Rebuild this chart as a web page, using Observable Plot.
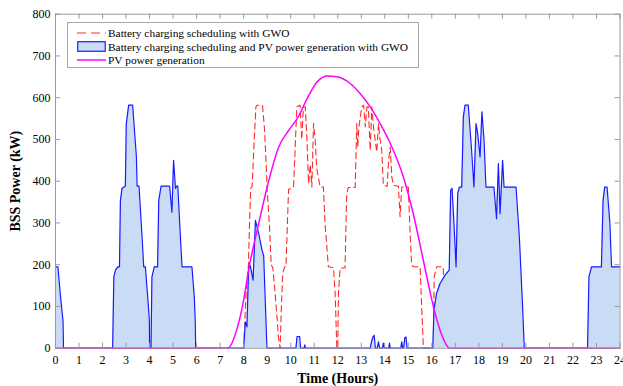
<!DOCTYPE html>
<html><head><meta charset="utf-8">
<script src="https://cdn.jsdelivr.net/npm/d3@7"></script>
<script src="https://cdn.jsdelivr.net/npm/@observablehq/plot@0.6"></script>
<style>
body{margin:0;background:#fff;}
#wrap{position:relative;width:623px;height:386px;}
#legend{position:absolute;left:67px;top:22px;width:352px;height:46px;border:1px solid #a8a8a8;background:#fff;font-family:"Liberation Serif",serif;font-size:11.4px;color:#000;box-sizing:border-box;padding-top:3px;}
#legend .row{display:flex;align-items:center;height:13.7px;white-space:nowrap;}
#legend svg{margin-left:9px;margin-right:2px;flex:none;}
#wrap svg, #wrap svg text{font-family:"Liberation Serif",serif !important;}
svg [aria-label="x-axis label"] text, svg [aria-label="y-axis label"] text{font-weight:bold;font-size:14px;}
</style></head>
<body><div id="wrap"></div>
<script>
const xTicks = d3.range(0, 25, 1);
const yTicks = d3.range(0, 801, 100);

// Battery charging scheduling and PV power generation with GWO (blue area)
const blueHours = [0,0.1,0.22,0.32,0.34,2.43,2.48,2.55,2.65,2.72,2.76,2.83,2.97,3.01,3.11,3.28,3.44,3.47,3.55,3.68,3.75,3.82,3.92,3.99,4.0,4.06,4.1,4.2,4.34,4.39,4.49,4.85,4.95,5.02,5.1,5.16,5.2,5.31,5.38,5.8,5.9,5.94,5.96,
  8.0,8.07,8.14,8.21,8.28,8.4,8.5,8.64,8.78,8.85,8.99,
  10.22,10.27,10.38,10.42,10.57,10.6,10.63,
  13.38,13.45,13.5,13.55,13.6,13.68,13.73,13.78,13.9,13.94,13.98,14.17,14.2,14.23,14.68,14.72,14.76,14.8,14.85,14.9,14.95,
  16.04,16.09,16.2,16.35,16.56,16.74,16.8,16.86,16.94,17.03,17.1,17.17,17.27,17.34,17.41,17.55,17.69,17.79,17.88,17.95,18.05,18.13,18.22,18.3,18.64,18.75,18.83,18.9,19.01,19.07,19.58,19.72,19.86,19.93,
  22.62,22.68,22.79,23.21,23.28,23.35,23.45,23.57,23.64,24];
const bluePower = [195,195,120,65,0,0,171,187,195,195,354,383,388,538,582,582,458,388,388,267,195,195,123,67,0,0,171,195,195,354,388,388,326,450,383,388,388,267,195,195,123,67,0,
  0,63,51,195,198,163,306,275,235,222,0,
  0,28,28,0,0,8,0,
  0,19,27,31,0,0,15,0,0,12,0,0,12,0,0,15,0,0,25,27,0,
  0,91,131,155,175,187,378,383,299,195,370,386,386,554,582,582,474,386,538,514,458,566,498,386,386,310,442,322,450,386,386,267,99,0,
  0,171,195,195,354,386,386,299,195,195];

// Battery charging scheduling with GWO (red dashed)
const redHours = [8.0,8.1,8.2,8.25,8.3,8.36,8.45,8.52,8.56,8.8,8.88,8.95,9.0,9.1,9.17,9.24,9.34,9.48,9.55,
  9.6,9.66,9.74,9.8,9.86,9.91,10.12,10.19,10.26,10.4,10.47,10.54,10.62,10.69,10.76,10.83,10.9,10.97,11.04,11.11,11.25,11.39,11.46,11.6,11.82,11.89,11.96,
  12.0,12.03,12.1,12.31,12.38,12.45,12.74,12.81,12.85,12.9,13.02,13.1,13.17,13.24,13.3,13.38,13.45,13.52,13.59,13.66,13.73,13.8,13.87,13.94,14.1,14.16,14.23,14.3,14.37,14.58,14.65,14.72,14.93,15.0,15.07,15.14,15.21,15.5,15.64,
  16.07,16.1,16.2,16.49,16.52];
const redPower = [0,131,195,300,383,388,500,578,582,582,530,450,380,290,200,192,131,26,0,
  91,180,195,195,300,380,386,480,578,582,500,578,578,500,394,440,386,538,500,430,386,386,299,195,193,131,0,
  0,131,192,192,370,385,385,538,481,530,578,582,530,578,578,474,578,530,498,470,538,500,474,390,388,450,481,410,390,388,315,386,386,386,283,200,195,195,0,
  0,171,195,195,0];

// PV power generation (magenta)
const pvHours = [0,7.3,7.43,7.71,8.0,8.21,8.64,9.07,9.49,9.92,10.34,10.69,11.11,11.54,11.96,12.53,12.95,13.38,13.8,14.23,14.79,15.21,15.64,16.07,16.35,16.6,16.74,24];
const pvPower = [0,0,5,45,115,187,299,402,482,522,556,597,637,652,650,634,610,578,538,491,410,322,210,99,43,10,0,0];

const blue = blueHours.map((h,i)=>({h, p: bluePower[i]}));
const red = redHours.map((h,i)=>({h, p: redPower[i]}));
const pv = pvHours.map((h,i)=>({h, p: pvPower[i]}));

const W = 623, H = 386, mL = 55, mR = 3.5, mT = 13.7, mB = 38.3, tick = 5;
const innerW = W - mL - mR, innerH = H - mT - mB;
const tickStyle = {stroke: "#9a9a9a", strokeWidth: 1};

const chart = Plot.plot({
  width: W, height: H,
  marginLeft: mL, marginRight: mR, marginTop: mT, marginBottom: mB,
  style: {fontFamily: "Liberation Serif, serif", fontSize: "12px", background: "white", color: "black"},
  x: {domain: [0, 24]},
  y: {domain: [0, 800]},
  marks: [
    Plot.line(red, {x: "h", y: "p", stroke: "#ff2a2a", strokeWidth: 1.1, strokeDasharray: "6,4"}),
    Plot.areaY(blue, {x: "h", y: "p", fill: "#cadcf5"}),
    Plot.line(blue, {x: "h", y: "p", stroke: "#1a1aff", strokeWidth: 1.2}),
    Plot.line(pv, {x: "h", y: "p", stroke: "#ff00ff", strokeWidth: 1.5, curve: "monotone-x"}),
    Plot.frame({stroke: "#9a9a9a"}),
    Plot.tickX(xTicks, {x: d => d, insetTop: innerH - tick, ...tickStyle}),
    Plot.tickX(xTicks, {x: d => d, insetBottom: innerH - tick, ...tickStyle}),
    Plot.tickY(yTicks, {y: d => d, insetRight: innerW - tick, ...tickStyle}),
    Plot.tickY(yTicks, {y: d => d, insetLeft: innerW - tick, ...tickStyle}),
    Plot.axisX(xTicks, {anchor: "bottom", tickSize: 0, tickPadding: 7, color: "black", label: "Time (Hours)", labelAnchor: "center", labelOffset: 35, labelArrow: "none"}),
    Plot.axisY(yTicks, {anchor: "left", tickSize: 0, tickPadding: 5, color: "black", label: "BSS Power (kW)", labelAnchor: "center", labelOffset: 45, labelArrow: "none"})
  ]
});
const wrap = document.getElementById("wrap");
wrap.appendChild(chart);

const legend = document.createElement("div");
legend.id = "legend";
legend.innerHTML = `
<div class="row"><svg width="29" height="10"><line x1="0" y1="5" x2="29" y2="5" stroke="#ff2a2a" stroke-width="1.1" stroke-dasharray="9,5"/></svg><span>Battery charging scheduling with GWO</span></div>
<div class="row"><svg width="29" height="11"><rect x="0.75" y="0.75" width="27.5" height="9.5" fill="#cadcf5" stroke="#1a1aff" stroke-width="1.2"/></svg><span>Battery charging scheduling and PV power generation with GWO</span></div>
<div class="row"><svg width="29" height="10"><line x1="0" y1="5" x2="29" y2="5" stroke="#ff00ff" stroke-width="1.5"/></svg><span>PV power generation</span></div>`;
wrap.appendChild(legend);
</script></body></html>
